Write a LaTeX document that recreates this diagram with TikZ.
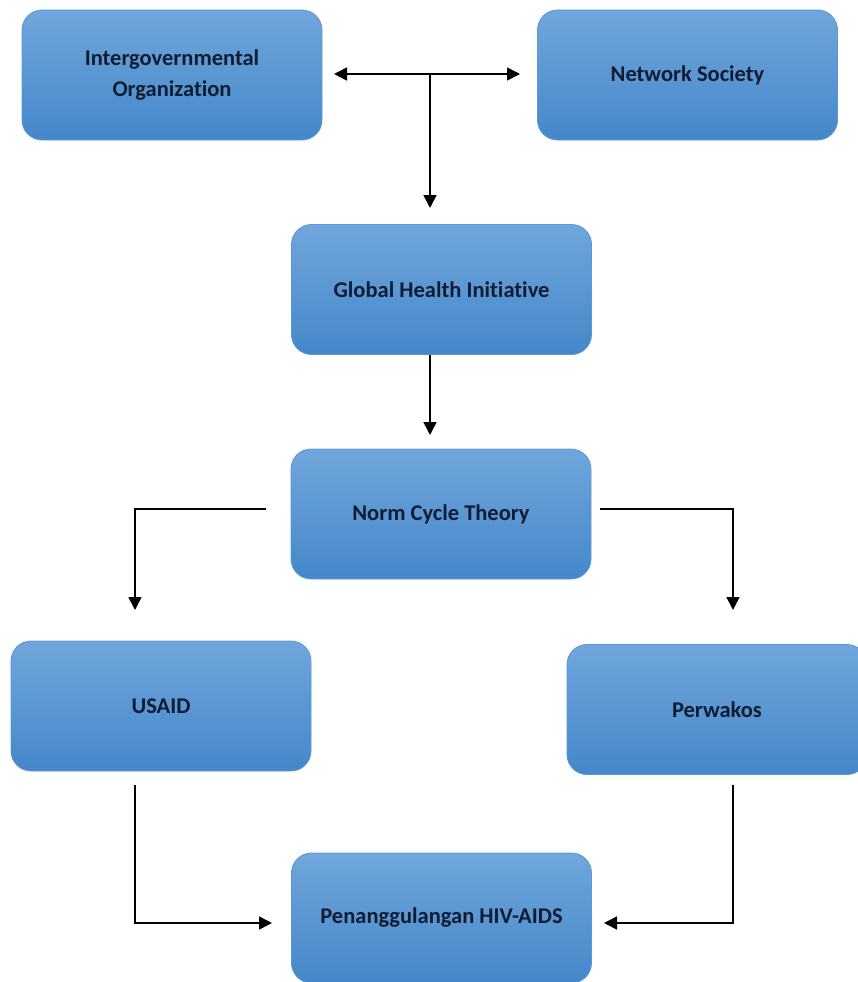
\documentclass[tikz,border=0pt]{standalone}
\usepackage{fontspec}
\setmainfont[Ligatures={NoCommon}]{Carlito}
\usetikzlibrary{arrows.meta,calc}
\definecolor{boxtop}{RGB}{112,166,220}
\definecolor{boxbot}{RGB}{68,135,201}
\definecolor{boxline}{RGB}{92,152,212}
\definecolor{txt}{RGB}{16,28,50}
\tikzset{
  box/.style={rectangle, rounded corners=20pt, minimum width=300pt, minimum height=130pt,
    top color=boxtop, bottom color=boxbot, draw=boxline, line width=0.8pt,
    align=center, text=txt, font=\fontsize{22.5}{31}\selectfont\bfseries, inner sep=0pt},
  conn/.style={line width=1.6pt, draw=black, -{Triangle[length=13pt,width=13pt]}},
  conn2/.style={line width=1.6pt, draw=black, {Triangle[length=13pt,width=13pt]}-{Triangle[length=13pt,width=13pt]}}
}
\begin{document}
\begin{tikzpicture}[x=1pt,y=-1pt]
\useasboundingbox (0,0) rectangle (858,982);
\node[box] (igo) at (172,75) {Intergovernmental\\Organization};
\node[box] (net) at (687.5,75) {Network Society};
\node[box] (ghi) at (441.5,289.5) {Global Health Initiative};
\node[box] (norm) at (441,514) {Norm Cycle Theory};
\node[box] (usaid) at (161,706) {USAID};
\node[box] (perw) at (717,709.5) {Perwakos};
\node[box] (pen) at (441.5,918) {Penanggulangan HIV-AIDS};
% top junction
\coordinate (j) at (430,74);
\coordinate (jl) at (334,74);
\coordinate (jr) at (520,74);
\draw[conn2] (jl) -- (jr);
\draw[conn] (j) -- (430,208);
% GHI to Norm
\coordinate (g1) at (430,355);
\coordinate (g2) at (430,435);
\draw[conn] (g1) -- (g2);
% Norm left
\coordinate (nl) at (266,509);
\coordinate (ul) at (135,610);
\draw[conn] (nl) -| (ul);
% Norm right
\coordinate (nr) at (600,509);
\coordinate (pr) at (733,610);
\draw[conn] (nr) -| (pr);
% USAID to Pen
\coordinate (u1) at (135,785);
\coordinate (pl) at (272,923);
\draw[conn] (u1) |- (pl);
% Perwakos to Pen
\coordinate (p1) at (733,785);
\coordinate (prr) at (604,923);
\draw[conn] (p1) |- (prr);
\end{tikzpicture}
\end{document}
